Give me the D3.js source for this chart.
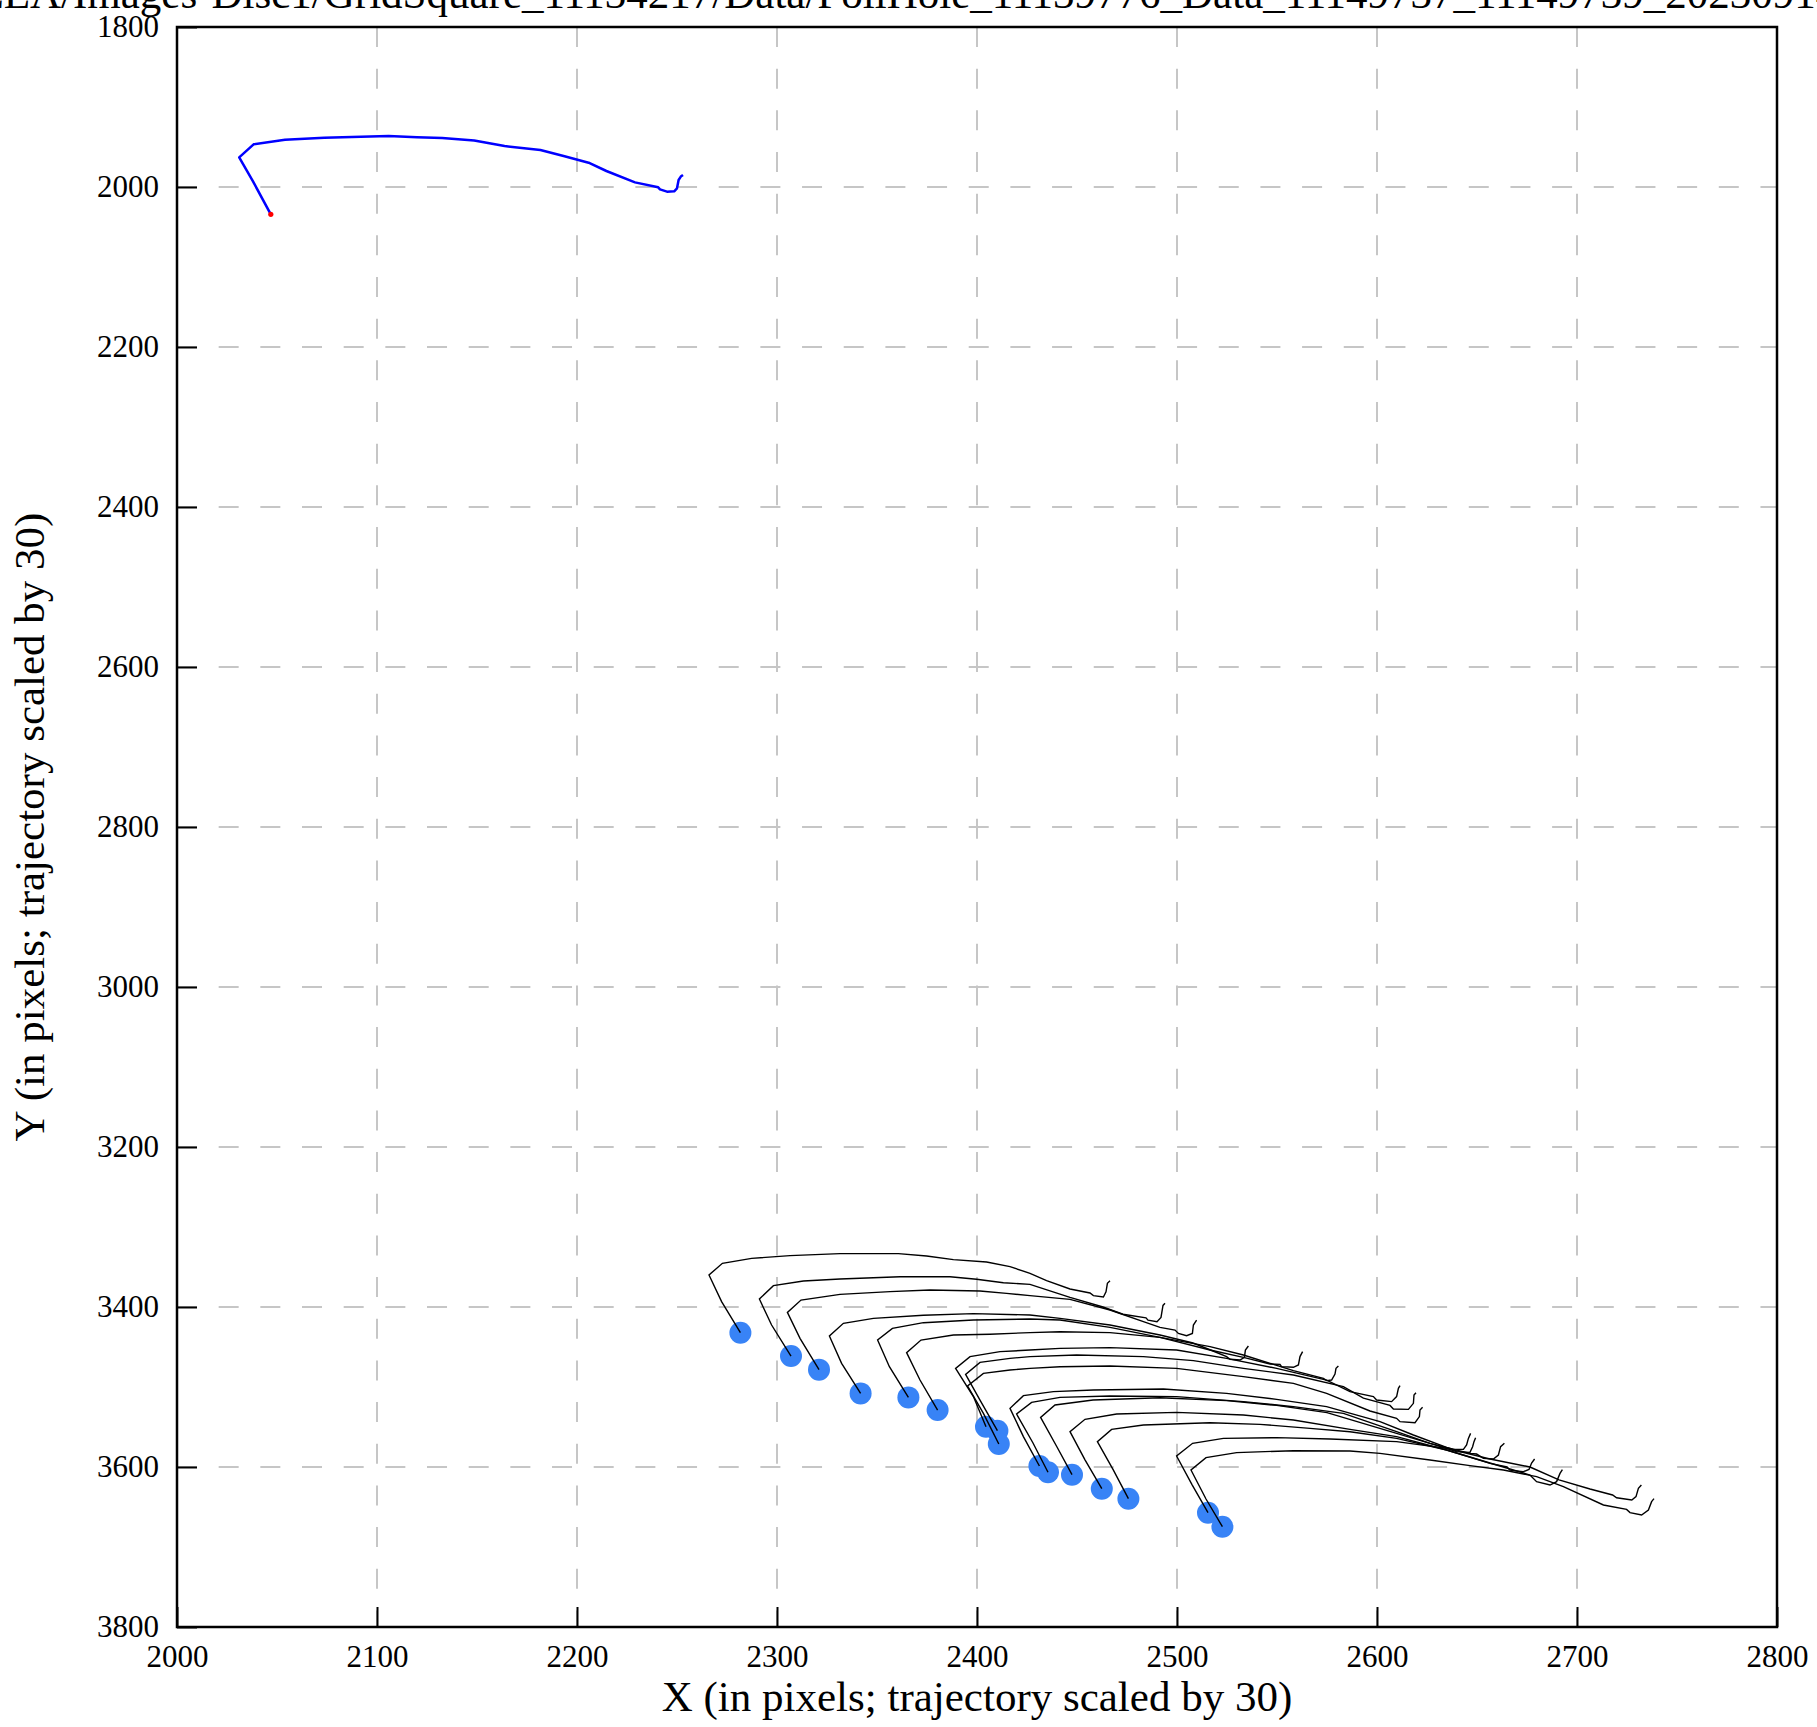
<!DOCTYPE html>
<html>
<head>
<meta charset="utf-8">
<script src="https://cdn.jsdelivr.net/npm/d3@7"></script>
<style>
  html, body { margin: 0; padding: 0; background: #ffffff; }
  svg { display: block; }
  text { font-family: "Liberation Serif", "Times New Roman", Times, serif; fill: #000; }
</style>
</head>
<body>
<svg id="chart" width="1817" height="1727"></svg>
<script>
// ---------------- data ----------------
const titlePrefix = "/mnt/data/EEA/Images-Disc1/GridSquare";
const titleRest = "_11134217/Data/FoilHole_11139776_Data_11149737_11149739_20230914_152013_fractions.tiff";
const xLabel = "X (in pixels; trajectory scaled by 30)";
const yLabel = "Y (in pixels; trajectory scaled by 30)";
const xDomain = [2000, 2800];
const yDomain = [1800, 3800];
const xTicks = [2000, 2100, 2200, 2300, 2400, 2500, 2600, 2700, 2800];
const yTicks = [1800, 2000, 2200, 2400, 2600, 2800, 3000, 3200, 3400, 3600, 3800];

// highlighted (blue) trajectory, first point = start (red dot)
const blueTraj = [[2046.9,2034.2],[2038,1993],[2031.1,1962.9],[2038.3,1946.7],[2054,1940.8],[2073.6,1938.3],[2105.8,1936.3],[2120,1937.9],[2132.6,1938.8],[2148.6,1942],[2163.8,1948.8],[2181.7,1953.8],[2193.3,1961.3],[2205.8,1969.6],[2214.7,1980],[2229,1994.2],[2240.6,2000.4],[2241.5,2002.9],[2245,2005.8],[2248.6,2005.4],[2250,2001.7],[2250.8,1991.3],[2251.9,1987],[2253,1985]];

// particle trajectories, first point = particle position (blue dot)
const trajA = [[2281.7,3432.1],[2272.3,3393.3],[2266,3360],[2272.7,3345.4],[2287.3,3339.2],[2306.5,3335.8],[2331.5,3333.3],[2360.7,3333.3],[2374.8,3336.2],[2388.2,3340.8],[2404.8,3343.8],[2416.5,3349.6],[2426.5,3357.9],[2434.8,3367],[2446.5,3377.5],[2456.5,3382.5],[2458.2,3385.8],[2463.2,3387.5],[2464.5,3381],[2465.2,3370.4],[2466.5,3367.3]];
const trajB = [[2307,3461.3],[2297.3,3422.5],[2291.2,3390],[2298.2,3373.3],[2313.2,3367.5],[2331.5,3365],[2361.5,3362.1],[2386.5,3362.1],[2399.8,3365.4],[2413.2,3369.6],[2426.5,3371.7],[2446.5,3388],[2463,3400],[2473,3409],[2484.5,3413.5],[2485.5,3416.5],[2490,3418.3],[2492,3413],[2493,3398],[2494,3395.4]];
const trajC = [[2321,3478.3],[2311.5,3439.2],[2305.2,3406.7],[2312,3391.3],[2331.5,3384.2],[2356.5,3380.8],[2376.5,3378.8],[2401.5,3380],[2414.8,3383],[2426.5,3385.8],[2446.5,3390.4],[2466.5,3403.8],[2483.2,3418.3],[2491.5,3425.4],[2499,3428.8],[2500.7,3433],[2504.8,3435.8],[2507.7,3433],[2508.2,3422.5],[2509.8,3416.3]];
const trajD = [[2341.8,3508],[2332.3,3470.4],[2326.2,3436.3],[2333.2,3420.4],[2348.2,3414.2],[2373.2,3410.4],[2398.2,3408.3],[2426.5,3410],[2441.5,3414.2],[2466.5,3422.5],[2491.5,3435],[2508,3445],[2518,3455],[2524.8,3462],[2526.5,3465.4],[2531.5,3466.3],[2533.7,3463],[2534.2,3453.8],[2535.7,3448.8]];
const trajE = [[2365.7,3513],[2356.2,3474.6],[2350.3,3441.3],[2357.7,3426.7],[2373.2,3419.6],[2398.2,3416.3],[2426.5,3415],[2441.5,3416.3],[2466.5,3425.4],[2491.5,3438],[2516.5,3453.8],[2533.2,3463],[2546.5,3471.3],[2551.5,3471.7],[2552.3,3474.6],[2558.2,3475.4],[2560.7,3472.5],[2561.5,3462],[2562.8,3455.8]];
const trajF = [[2380.3,3528.8],[2371.5,3491.3],[2364.8,3457],[2372,3441.3],[2388.2,3435],[2406.5,3434],[2426.5,3432],[2441.5,3431],[2466.5,3432],[2491.5,3438],[2516.5,3449.6],[2533.2,3460],[2558.2,3479.6],[2573.2,3489.2],[2574.8,3492],[2577.3,3491.3],[2579,3483.8],[2579.5,3476.7],[2580.7,3473.8]];
const trajG = [[2404.5,3549.6],[2398.2,3512],[2389.3,3476.7],[2396.5,3462],[2411.5,3455.8],[2426.5,3453.8],[2441.5,3451.7],[2466.5,3450.8],[2499.8,3453.8],[2524.8,3464.2],[2549.8,3476.7],[2574.8,3491.3],[2586.5,3505.8],[2598.2,3512],[2599.8,3516.3],[2607.3,3518.3],[2609.8,3512],[2610.7,3501.7],[2611.5,3498.3]];
const trajH = [[2410.2,3554.6],[2401.5,3516.3],[2394.3,3484.2],[2401.5,3469.2],[2416.5,3464.2],[2426.5,3462],[2449.8,3460],[2483.2,3462],[2508.2,3467],[2533.2,3476.7],[2558.2,3485],[2583.2,3499.6],[2593.2,3514],[2606.5,3523],[2608.2,3527.5],[2615.7,3528],[2618.2,3520.4],[2618.5,3510],[2619.5,3507.1]];
const trajI = [[2410.9,3571.3],[2403.2,3533],[2395.3,3498.8],[2403.2,3483],[2416.5,3478.8],[2426.5,3476.7],[2441.5,3474.6],[2466.5,3473.8],[2499.8,3476.7],[2533.2,3487],[2558.2,3495.4],[2574.8,3508],[2596.5,3530],[2609.8,3539.2],[2611.5,3543.3],[2619,3544.6],[2621.2,3537],[2621.5,3528.8],[2622.8,3525.4]];
const trajJ = [[2431.2,3598.8],[2423.2,3562],[2416.5,3526.7],[2423.2,3510.8],[2438.2,3505.8],[2458.2,3503.8],[2493.2,3502.5],[2524.8,3508],[2549.8,3515.4],[2574.8,3524.6],[2601.5,3543.3],[2618.2,3560],[2634.8,3575.4],[2638.2,3578],[2643.2,3578],[2644.8,3572.5],[2645.7,3564.2],[2646.8,3558]];
const trajK = [[2435.5,3606.6],[2428,3570],[2419.8,3533.8],[2427.3,3519.2],[2441.5,3513],[2466.5,3511.3],[2499.8,3512],[2533.2,3518.3],[2558.2,3524.6],[2583.2,3533],[2609.8,3555.8],[2626.5,3570.4],[2639.8,3580.8],[2646.5,3581.7],[2647.8,3574.6],[2648.5,3568.3],[2649.3,3563.3]];
const trajL = [[2447.5,3609.6],[2440,3575],[2431.8,3538],[2439,3522.5],[2458,3516.3],[2491.5,3513.5],[2524.8,3517],[2549.8,3523],[2575,3532],[2609.8,3558],[2626.5,3570.4],[2646.5,3583],[2649.8,3583.8],[2653.2,3589.2],[2658.2,3590],[2660.7,3585],[2661.8,3574.6],[2663.7,3570.4]];
const trajM = [[2462.4,3627.1],[2454,3591],[2446.5,3555.8],[2454,3540.4],[2469.8,3533.8],[2499.8,3531.7],[2533.2,3535],[2558.2,3541.3],[2586.5,3553],[2609.8,3562],[2634.8,3578.8],[2656.5,3595.4],[2665,3600],[2666.5,3604],[2673,3606],[2676,3603],[2677.3,3595],[2678.8,3590]];
const trajN = [[2475.7,3639.6],[2468,3603],[2460.2,3568.3],[2467.3,3553],[2483.2,3547.5],[2516.5,3544.6],[2541.5,3546.7],[2566.5,3551.7],[2586.5,3556],[2609.8,3564.2],[2634.8,3578.8],[2659.8,3597.5],[2676.5,3610],[2679.8,3618.3],[2686.5,3622.5],[2689.8,3618.3],[2691.5,3608],[2692.7,3603.3]];
const trajO = [[2515.5,3657.1],[2507.5,3622],[2499.8,3586.3],[2507.8,3570.4],[2523.2,3564.2],[2549.8,3563.3],[2576.5,3565],[2609.8,3568.3],[2634.8,3576.7],[2656.5,3590],[2676.5,3600],[2691,3616],[2706.5,3627.5],[2717.8,3635],[2719.8,3638.5],[2727.4,3641.3],[2729.5,3637],[2730.7,3626.7],[2732.2,3622.5]];
const trajP = [[2522.7,3674.6],[2514.5,3640],[2507,3603.8],[2514.5,3588.3],[2529.8,3582],[2558.2,3579.6],[2586.5,3580],[2601.5,3583],[2626.5,3591.3],[2646.5,3598.3],[2663.2,3603.8],[2679.8,3612],[2693.2,3624.6],[2713.2,3647.5],[2724.8,3653],[2726.5,3657],[2732.3,3660],[2735.7,3653.8],[2737.3,3643.3],[2738.5,3639.6]];

const trajectories = [trajA, trajB, trajC, trajD, trajE, trajF, trajG, trajH, trajI, trajJ, trajK, trajL, trajM, trajN, trajO, trajP];

// ---------------- layout ----------------
const plot = { left: 177, top: 27, width: 1600, height: 1600 };

const svg = d3.select("#chart");
const x = d3.scaleLinear().domain(xDomain).range([plot.left, plot.left + plot.width]);
const y = d3.scaleLinear().domain(yDomain).range([plot.top, plot.top + plot.height]);

// grid
const grid = svg.append("g").attr("stroke", "#c6c6c6").attr("stroke-width", 2)
  .attr("stroke-dasharray", "20,21.67").attr("fill", "none");
grid.selectAll("line.v").data(xTicks.slice(1, -1)).join("line").attr("class", "v")
  .attr("x1", d => x(d)).attr("x2", d => x(d))
  .attr("y1", plot.top).attr("y2", plot.top + plot.height);
grid.selectAll("line.h").data(yTicks.slice(1, -1)).join("line").attr("class", "h")
  .attr("x1", plot.left).attr("x2", plot.left + plot.width)
  .attr("y1", d => y(d)).attr("y2", d => y(d));

// axes
const tickFont = 31;
const xAxis = d3.axisBottom(x).tickValues(xTicks).tickFormat(d3.format("d"))
  .tickSize(-20).tickPadding(18);
const yAxis = d3.axisLeft(y).tickValues(yTicks).tickFormat(d3.format("d"))
  .tickSize(-20).tickPadding(18);

const gx = svg.append("g").attr("transform", `translate(0,${plot.top + plot.height})`).call(xAxis);
const gy = svg.append("g").attr("transform", `translate(${plot.left},0)`).call(yAxis);
[gx, gy].forEach(g => {
  g.select(".domain").remove();
  g.selectAll(".tick line").attr("stroke", "#000").attr("stroke-width", 2);
  g.selectAll(".tick text").attr("font-size", tickFont)
    .attr("font-family", "'Liberation Serif', 'Times New Roman', serif").attr("fill", "#000");
});

// dots (under the lines)
const line = d3.line().x(d => x(d[0])).y(d => y(d[1]));
svg.append("g").selectAll("circle").data(trajectories).join("circle")
  .attr("cx", d => x(d[0][0])).attr("cy", d => y(d[0][1])).attr("r", 11)
  .attr("fill", "rgb(56,131,246)");

svg.append("g").selectAll("path").data(trajectories).join("path")
  .attr("d", line).attr("fill", "none").attr("stroke", "#000")
  .attr("stroke-width", 1.4).attr("stroke-linejoin", "miter");

svg.append("path").datum(blueTraj).attr("d", line).attr("fill", "none")
  .attr("stroke", "#0000ff").attr("stroke-width", 2.5).attr("stroke-linejoin", "round");
svg.append("circle").attr("cx", x(blueTraj[0][0])).attr("cy", y(blueTraj[0][1]))
  .attr("r", 2.6).attr("fill", "#ff0000");

// frame
svg.append("rect").attr("x", plot.left).attr("y", plot.top)
  .attr("width", plot.width).attr("height", plot.height)
  .attr("fill", "none").attr("stroke", "#000").attr("stroke-width", 2.5);

// axis labels
const labelFont = 43;
svg.append("text").attr("x", plot.left + plot.width / 2).attr("y", 1711)
  .attr("text-anchor", "middle").attr("font-size", labelFont).text(xLabel);
svg.append("text").attr("transform", `translate(44,${plot.top + plot.height / 2}) rotate(-90)`)
  .attr("text-anchor", "middle").attr("font-size", labelFont).text(yLabel);

// title (clipped at top of the page, like the original)
const tmp = svg.append("text").attr("font-size", labelFont).text(titlePrefix);
const prefixW = tmp.node().getComputedTextLength();
tmp.remove();
svg.append("text").attr("x", 522 - prefixW).attr("y", 8)
  .attr("font-size", labelFont).text(titlePrefix + titleRest);
</script>
</body>
</html>
